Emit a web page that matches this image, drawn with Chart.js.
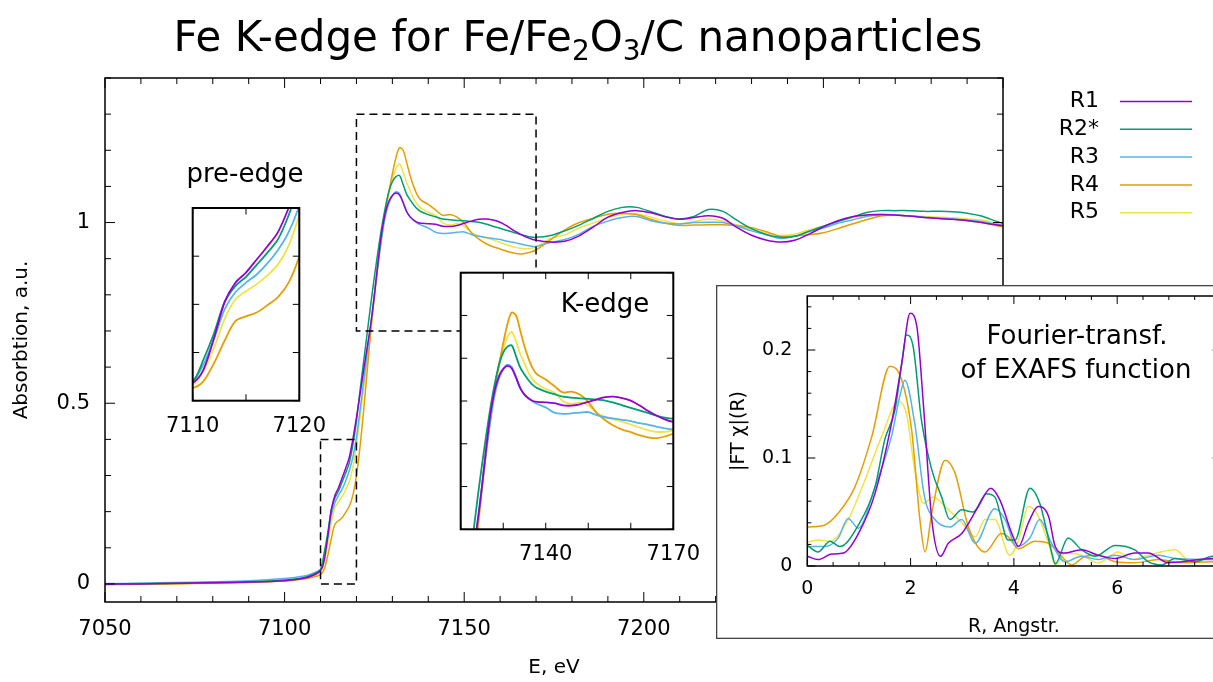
<!DOCTYPE html>
<html>
<head>
<meta charset="utf-8">
<title>Fe K-edge for Fe/Fe2O3/C nanoparticles</title>
<script src="https://cdn.jsdelivr.net/npm/chart.js@4.4.1/dist/chart.umd.min.js"></script>
<style>
  html, body { margin: 0; padding: 0; background: #fff; overflow: hidden; width: 1213px; height: 682px; }
  canvas { position: absolute; }
</style>
</head>
<body>
<canvas id="main" width="1213" height="682" style="left:0;top:0"></canvas>
<canvas id="pre" width="220" height="310" style="left:140px;top:140px"></canvas>
<canvas id="kedge" width="300" height="330" style="left:420px;top:250px"></canvas>
<canvas id="ft" width="560" height="354" style="left:716px;top:285px"></canvas>
<script>
// series
const seriesNames = ['R1', 'R2*', 'R3', 'R4', 'R5'];
const colors = ['#9400d3', '#009e73', '#56b4e9', '#e69f00', '#f0e442'];

// XANES: energy grid (eV) and absorption of each sample
const energy = [7050, 7060, 7070, 7080, 7090, 7100, 7105, 7108, 7110,
  7111, 7112, 7113, 7114, 7115, 7116, 7117, 7118, 7119, 7120, 7121, 7122, 7123, 7124,
  7125, 7126, 7127, 7128, 7129, 7130, 7131, 7132, 7133, 7134, 7135, 7136, 7137, 7138,
  7140, 7142, 7144, 7146, 7148, 7150, 7152, 7154, 7156, 7158, 7160, 7162, 7164, 7166, 7168, 7170,
  7174, 7178, 7182, 7186, 7190, 7194, 7198, 7202, 7206, 7210, 7214, 7218, 7222, 7226, 7230, 7234,
  7238, 7242, 7246, 7250, 7254, 7258, 7262, 7266, 7270, 7274, 7278, 7282, 7286, 7290, 7294, 7298, 7300];

const absR1 = [0.000, 0.000, 0.002, 0.003, 0.005, 0.009, 0.015, 0.024, 0.037,
  0.064, 0.130, 0.205, 0.245, 0.266, 0.293, 0.320, 0.350, 0.400, 0.460, 0.525, 0.590, 0.655, 0.720,
  0.800, 0.890, 0.970, 1.025, 1.058, 1.075, 1.082, 1.076, 1.055, 1.030, 1.015, 1.006, 1.000, 0.998,
  0.997, 0.995, 0.990, 0.989, 0.992, 0.998, 1.004, 1.009, 1.010, 1.007, 1.001, 0.990, 0.977, 0.966, 0.957, 0.951,
  0.946, 0.948, 0.963, 0.988, 1.015, 1.028, 1.033, 1.027, 1.016, 1.009, 1.014, 1.019, 1.012, 0.986, 0.965, 0.952,
  0.946, 0.951, 0.968, 0.988, 1.005, 1.016, 1.021, 1.022, 1.021, 1.018, 1.014, 1.011, 1.009, 1.006, 1.000, 0.994, 0.991];

const absR2 = [0.000, 0.001, 0.002, 0.004, 0.006, 0.011, 0.017, 0.027, 0.040,
  0.085, 0.140, 0.205, 0.238, 0.257, 0.282, 0.307, 0.335, 0.385, 0.450, 0.535, 0.615, 0.695, 0.775,
  0.850, 0.920, 0.985, 1.040, 1.085, 1.113, 1.127, 1.130, 1.105, 1.078, 1.062, 1.048, 1.037, 1.030,
  1.022, 1.016, 1.010, 1.008, 1.006, 1.005, 1.003, 1.001, 0.996, 0.990, 0.984, 0.978, 0.972, 0.966, 0.961, 0.959,
  0.964, 0.977, 0.993, 1.012, 1.031, 1.042, 1.042, 1.030, 1.017, 1.010, 1.017, 1.036, 1.031, 1.006, 0.983, 0.967,
  0.959, 0.962, 0.976, 0.990, 1.003, 1.015, 1.028, 1.033, 1.033, 1.033, 1.031, 1.031, 1.030, 1.026, 1.018, 1.004, 0.998];

const absR3 = [0.001, 0.002, 0.004, 0.006, 0.009, 0.015, 0.021, 0.030, 0.041,
  0.075, 0.128, 0.190, 0.225, 0.245, 0.262, 0.285, 0.313, 0.350, 0.405, 0.480, 0.560, 0.640, 0.720,
  0.800, 0.880, 0.955, 1.015, 1.052, 1.074, 1.085, 1.080, 1.056, 1.030, 1.015, 1.006, 0.998, 0.993,
  0.985, 0.973, 0.970, 0.971, 0.973, 0.974, 0.967, 0.962, 0.959, 0.956, 0.953, 0.948, 0.945, 0.940, 0.936, 0.934,
  0.945, 0.953, 0.968, 0.990, 1.004, 1.014, 1.017, 1.005, 0.998, 0.996, 1.000, 1.001, 1.000, 0.990, 0.977, 0.967,
  0.956, 0.962, 0.975, 0.985, 0.998, 1.007, 1.017, 1.021, 1.021, 1.018, 1.015, 1.012, 1.010, 1.007, 1.003, 0.995, 0.992];

const absR4 = [-0.002, -0.001, 0.000, 0.002, 0.004, 0.008, 0.013, 0.019, 0.026,
  0.040, 0.078, 0.125, 0.165, 0.175, 0.183, 0.198, 0.215, 0.245, 0.300, 0.380, 0.480, 0.590, 0.700,
  0.800, 0.890, 0.960, 1.030, 1.085, 1.135, 1.180, 1.207, 1.200, 1.165, 1.128, 1.098, 1.075, 1.062,
  1.050, 1.035, 1.020, 1.022, 1.015, 0.998, 0.972, 0.955, 0.942, 0.933, 0.927, 0.920, 0.915, 0.913, 0.917, 0.924,
  0.952, 0.980, 1.000, 1.012, 1.023, 1.026, 1.022, 1.009, 0.998, 0.992, 0.993, 0.994, 0.994, 0.992, 0.986, 0.975,
  0.962, 0.963, 0.966, 0.972, 0.983, 0.996, 1.008, 1.018, 1.021, 1.018, 1.015, 1.012, 1.010, 1.005, 1.000, 0.992, 0.988];

const absR5 = [0.000, 0.000, 0.001, 0.003, 0.005, 0.009, 0.015, 0.023, 0.033,
  0.060, 0.110, 0.170, 0.210, 0.227, 0.242, 0.260, 0.283, 0.322, 0.385, 0.460, 0.540, 0.620, 0.700,
  0.790, 0.880, 0.960, 1.030, 1.080, 1.120, 1.150, 1.162, 1.140, 1.110, 1.088, 1.065, 1.050, 1.040,
  1.028, 1.020, 1.000, 0.993, 0.997, 0.990, 0.972, 0.963, 0.957, 0.952, 0.945, 0.938, 0.932, 0.928, 0.928, 0.932,
  0.956, 0.966, 0.985, 0.999, 1.013, 1.023, 1.024, 1.015, 1.004, 0.997, 1.003, 1.010, 1.004, 0.993, 0.981, 0.972,
  0.964, 0.968, 0.980, 0.990, 1.003, 1.013, 1.021, 1.024, 1.021, 1.019, 1.017, 1.015, 1.013, 1.010, 1.007, 0.999, 0.995];

const absorption = [absR1, absR2, absR3, absR4, absR5];

// Fourier transform of EXAFS: R (Angstrom) and |FT chi|(R)
const ftR1 = [0, 0.21, 0.47, 0.70, 0.99, 1.31, 1.63, 1.83, 1.99, 2.12, 2.25, 2.41, 2.58, 2.73, 2.99, 3.31, 3.55, 3.73,
  3.96, 4.09, 4.28, 4.47, 4.67, 4.80, 4.96, 5.31, 5.63, 5.96, 6.34, 6.60, 6.99, 7.25, 7.85, 8.0];
const ftF1 = [0.009, 0.006, 0.011, 0.012, 0.030, 0.067, 0.132, 0.188, 0.234, 0.222, 0.148, 0.043, 0.009, 0.021, 0.030, 0.055, 0.072, 0.061,
  0.030, 0.018, 0.040, 0.055, 0.046, 0.018, 0.012, 0.015, 0.010, 0.007, 0.012, 0.012, 0.003, 0.004, 0.007, 0.007];
const ftR2 = [0, 0.21, 0.44, 0.63, 0.99, 1.31, 1.50, 1.70, 1.83, 1.92, 2.05, 2.21, 2.41, 2.60, 2.76, 2.99, 3.21, 3.47, 3.63,
  3.89, 4.02, 4.31, 4.50, 4.73, 4.80, 5.05, 5.31, 5.57, 5.96, 6.34, 6.60, 6.86, 7.12, 7.51, 7.85, 8.0];
const ftF2 = [0.019, 0.013, 0.023, 0.018, 0.038, 0.073, 0.117, 0.145, 0.188, 0.214, 0.203, 0.135, 0.089, 0.064, 0.043, 0.052, 0.050, 0.067, 0.064,
  0.024, 0.024, 0.072, 0.058, 0.013, 0.002, 0.026, 0.015, 0.009, 0.019, 0.015, 0.004, 0.001, 0.007, 0.004, 0.009, 0.009];
const ftR3 = [0, 0.34, 0.60, 0.79, 0.99, 1.31, 1.63, 1.79, 1.89, 2.08, 2.27, 2.47, 2.76, 2.99, 3.25, 3.63, 3.83, 4.05,
  4.31, 4.50, 4.73, 4.99, 5.31, 5.63, 5.96, 6.34, 6.80, 7.12, 7.85, 8.0];
const ftF3 = [0.018, 0.018, 0.026, 0.044, 0.035, 0.073, 0.120, 0.157, 0.172, 0.132, 0.064, 0.043, 0.036, 0.043, 0.021, 0.053, 0.043, 0.018,
  0.026, 0.043, 0.021, 0.004, 0.009, 0.006, 0.010, 0.006, 0.010, 0.007, 0.006, 0.006];
const ftR4 = [0, 0.34, 0.60, 0.92, 1.25, 1.60, 1.83, 2.02, 2.18, 2.28, 2.41, 2.67, 2.86, 3.12, 3.44, 3.76, 3.89, 4.09,
  4.41, 4.67, 4.92, 5.12, 5.38, 5.63, 5.96, 6.34, 6.80, 7.25, 7.85, 8.0];
const ftF4 = [0.036, 0.038, 0.049, 0.073, 0.120, 0.185, 0.172, 0.126, 0.043, 0.013, 0.049, 0.098, 0.086, 0.036, 0.013, 0.030, 0.027, 0.016,
  0.023, 0.021, 0.009, 0.001, 0.009, 0.010, 0.004, 0.003, 0.006, 0.003, 0.004, 0.004];
const ftR5 = [0, 0.21, 0.44, 0.79, 1.12, 1.44, 1.76, 1.92, 2.08, 2.25, 2.44, 2.67, 2.99, 3.25, 3.44, 3.63, 3.92, 4.09,
  4.28, 4.44, 4.67, 4.80, 4.99, 5.31, 5.63, 6.02, 6.28, 6.60, 7.12, 7.38, 7.85, 8.0];
const ftF5 = [0.022, 0.024, 0.023, 0.043, 0.080, 0.120, 0.152, 0.141, 0.089, 0.058, 0.064, 0.055, 0.040, 0.027, 0.043, 0.043, 0.010, 0.024,
  0.055, 0.049, 0.021, 0.001, 0.012, 0.010, 0.003, 0.013, 0.006, 0.010, 0.015, 0.006, 0.006, 0.006];
const ftR = [ftR1, ftR2, ftR3, ftR4, ftR5];
const ftF = [ftF1, ftF2, ftF3, ftF4, ftF5];

// axis ranges and tick labels
const mainE = [7050, 7300], mainA = [-0.05, 1.4];
const mainXTicks = [7050, 7100, 7150, 7200, 7250, 7300];
const mainYTicks = [0, 0.5, 1];
const preEdgeE = [7110, 7120], preEdgeA = [0, 0.4];
const preXTicks = [7110, 7120];
const kEdgeE = [7120, 7170], kEdgeA = [0.7, 1.3];
const kXTicks = [7140, 7170];
const ftRange = [0, 8], ftYRange = [0, 0.25];
const ftXTicks = [0, 2, 4, 6, 8];
const ftYTicks = [0, 0.1, 0.2];

const FONT = 'DejaVu Sans';
const font = size => ({ family: FONT, size: size });

function toPoints(xs, ys) {
  return xs.map((x, i) => ({ x: x, y: ys[i] }));
}

function stepValues(min, max, step) {
  const out = [];
  const n0 = Math.ceil(min / step - 1e-6), n1 = Math.floor(max / step + 1e-6);
  for (let n = n0; n <= n1; n++) out.push(+(n * step).toFixed(6));
  return out;
}

function isMultiple(v, step) {
  return Math.abs(v / step - Math.round(v / step)) < 1e-6;
}

// gnuplot-like frame with inward ticks on all four sides
const boxPlugin = {
  id: 'box',
  beforeDraw(chart, args, o) {
    if (!o.fillCanvas) return;
    const { ctx, width, height } = chart;
    ctx.save();
    ctx.fillStyle = '#fff';
    ctx.fillRect(0, 0, width, height);
    ctx.strokeStyle = '#444';
    ctx.lineWidth = 1.3;
    ctx.strokeRect(0.65, 0.65, width - 1.3, height - 1.3);
    ctx.restore();
  },
  beforeDatasetsDraw(chart, args, o) {
    if (!o.fillArea) return;
    const { ctx, chartArea: a } = chart;
    ctx.save();
    ctx.fillStyle = '#fff';
    ctx.fillRect(a.left, a.top, a.width, a.height);
    ctx.restore();
  },
  afterDatasetsDraw(chart, args, o) {
    const { ctx, chartArea: a, scales } = chart;
    const xs = scales.x, ys = scales.y;
    ctx.save();
    ctx.strokeStyle = '#000';
    ctx.lineWidth = 1;
    ctx.beginPath();
    const xTick = (step, len) => stepValues(xs.min, xs.max, step).forEach(v => {
      if (len < o.major && isMultiple(v, o.xMajor)) return;
      const px = xs.getPixelForValue(v);
      ctx.moveTo(px, a.bottom); ctx.lineTo(px, a.bottom - len);
      ctx.moveTo(px, a.top); ctx.lineTo(px, a.top + len);
    });
    const yTick = (step, len) => stepValues(ys.min, ys.max, step).forEach(v => {
      if (len < o.major && isMultiple(v, o.yMajor)) return;
      const py = ys.getPixelForValue(v);
      ctx.moveTo(a.left, py); ctx.lineTo(a.left + len, py);
      ctx.moveTo(a.right, py); ctx.lineTo(a.right - len, py);
    });
    xTick(o.xMajor, o.major);
    yTick(o.yMajor, o.major);
    if (o.xMinor) xTick(o.xMinor, o.minor);
    if (o.yMinor) yTick(o.yMinor, o.minor);
    ctx.stroke();
    ctx.lineWidth = o.frameWidth;
    ctx.strokeRect(a.left, a.top, a.width, a.height);
    ctx.restore();
  }
};

// text labels placed on a chart
const notesPlugin = {
  id: 'notes',
  afterDraw(chart, args, o) {
    const ctx = chart.ctx;
    ctx.save();
    ctx.fillStyle = '#000';
    (o.items || []).forEach(t => {
      ctx.font = t.size + 'px "' + FONT + '"';
      ctx.textAlign = 'center';
      ctx.textBaseline = 'alphabetic';
      ctx.fillText(t.text, t.x, t.y);
    });
    ctx.restore();
  }
};

// main chart extras: dashed zoom boxes, legend, title with subscripts
const mainExtras = {
  id: 'mainExtras',
  afterDraw(chart) {
    const { ctx, scales: { x, y } } = chart;
    ctx.save();
    ctx.strokeStyle = '#000';
    ctx.lineWidth = 1.5;
    ctx.setLineDash([8, 5]);
    [[preEdgeE, preEdgeA], [kEdgeE, kEdgeA]].forEach(([e, a]) => {
      const x0 = x.getPixelForValue(e[0]), x1 = x.getPixelForValue(e[1]);
      const y0 = y.getPixelForValue(a[1]), y1 = y.getPixelForValue(a[0]);
      ctx.strokeRect(x0, y0, x1 - x0, y1 - y0);
    });
    ctx.setLineDash([]);

    // legend
    ctx.font = '22px "' + FONT + '"';
    ctx.textAlign = 'right';
    ctx.textBaseline = 'middle';
    chart.data.datasets.forEach((ds, i) => {
      const ly = 101.5 + i * 27.8;
      ctx.fillStyle = '#000';
      ctx.fillText(ds.label, 1099, ly);
      ctx.strokeStyle = ds.borderColor;
      ctx.lineWidth = 1.5;
      ctx.beginPath();
      ctx.moveTo(1120, ly);
      ctx.lineTo(1192, ly);
      ctx.stroke();
    });

    // title
    const parts = [['Fe K-edge for Fe/Fe', 0], ['2', 1], ['O', 0], ['3', 1], ['/C nanoparticles', 0]];
    const big = '42px "' + FONT + '"', small = '28px "' + FONT + '"';
    let total = 0;
    parts.forEach(([t, sub]) => { ctx.font = sub ? small : big; total += ctx.measureText(t).width; });
    let tx = 578 - total / 2;
    ctx.textAlign = 'left';
    ctx.textBaseline = 'alphabetic';
    ctx.fillStyle = '#000';
    parts.forEach(([t, sub]) => {
      ctx.font = sub ? small : big;
      ctx.fillText(t, tx, sub ? 60 : 51);
      tx += ctx.measureText(t).width;
    });
    ctx.restore();
  }
};

function fixedTicks(list) {
  return s => { s.ticks = list.map(v => ({ value: v })); };
}

function lineSets(widthPx, pointsFor, extra) {
  return seriesNames.map((n, i) => Object.assign({
    label: n,
    data: pointsFor(i),
    borderColor: colors[i],
    borderWidth: widthPx,
    pointRadius: 0,
    fill: false
  }, extra));
}

// main XANES chart
new Chart(document.getElementById('main'), {
  type: 'line',
  data: { datasets: lineSets(1.5, i => toPoints(energy, absorption[i]), { tension: 0.3 }) },
  options: {
    responsive: false, animation: false, events: [], devicePixelRatio: 1,
    layout: { padding: { left: 0, right: 210, top: 78, bottom: 0 } },
    plugins: {
      legend: { display: false }, tooltip: { enabled: false },
      box: { xMajor: 50, xMinor: 10, yMajor: 0.5, yMinor: 0.1, major: 10, minor: 6, frameWidth: 1.5 }
    },
    scales: {
      x: {
        type: 'linear', min: mainE[0], max: mainE[1],
        afterBuildTicks: fixedTicks(mainXTicks),
        afterFit: s => { s.height = 80; },
        grid: { display: false, drawTicks: false }, border: { display: false },
        ticks: { callback: v => String(v), font: font(21), color: '#000', padding: 15, maxRotation: 0, autoSkip: false },
        title: { display: true, text: 'E, eV', font: font(20), color: '#000', padding: { top: 0, bottom: 2 } }
      },
      y: {
        type: 'linear', min: mainA[0], max: mainA[1],
        afterBuildTicks: fixedTicks(mainYTicks),
        afterFit: s => { s.width = 105; },
        grid: { display: false, drawTicks: false }, border: { display: false },
        ticks: { callback: v => String(v), font: font(21), color: '#000', padding: 15 },
        title: { display: true, text: 'Absorbtion, a.u.', font: font(20), color: '#000', padding: { top: 10, bottom: 0 } }
      }
    }
  },
  plugins: [boxPlugin, mainExtras]
});

// inset zoom charts share the same absorption arrays
function insetChart(id, eRange, aRange, xLabels, cfg) {
  return new Chart(document.getElementById(id), {
    type: 'line',
    data: { datasets: lineSets(1.8, i => toPoints(energy, absorption[i]), { tension: 0.3 }) },
    options: {
      responsive: false, animation: false, events: [], devicePixelRatio: 1,
      layout: { padding: { left: 0, right: cfg.right, top: cfg.top, bottom: 0 } },
      plugins: {
        legend: { display: false }, tooltip: { enabled: false },
        box: { xMajor: cfg.xStep, yMajor: 0.1, major: 6.5, minor: 3, frameWidth: 2, fillArea: true },
        notes: { items: cfg.notes }
      },
      scales: {
        x: {
          type: 'linear', min: eRange[0], max: eRange[1],
          afterBuildTicks: fixedTicks(xLabels),
          afterFit: s => { s.height = cfg.bottomH; },
          grid: { display: false, drawTicks: false }, border: { display: false },
          ticks: { callback: v => String(v), font: font(21), color: '#000', padding: 13, maxRotation: 0, autoSkip: false }
        },
        y: {
          type: 'linear', min: aRange[0], max: aRange[1],
          afterFit: s => { s.width = cfg.leftW; s.paddingTop = 0; s.paddingBottom = 0; },
          grid: { display: false, drawTicks: false }, border: { display: false },
          ticks: { display: false }
        }
      }
    },
    plugins: [boxPlugin, notesPlugin]
  });
}

insetChart('pre', preEdgeE, preEdgeA, preXTicks, {
  leftW: 52.7, right: 60.7, top: 68, bottomH: 49.3, xStep: 5,
  notes: [{ text: 'pre-edge', x: 105, y: 42, size: 26 }]
});

insetChart('kedge', kEdgeE, kEdgeA, kXTicks, {
  leftW: 40.7, right: 46.7, top: 22.7, bottomH: 50.7, xStep: 10,
  notes: [{ text: 'K-edge', x: 185, y: 62, size: 26 }]
});

// Fourier-transform inset
new Chart(document.getElementById('ft'), {
  type: 'line',
  data: { datasets: lineSets(1.5, i => toPoints(ftR[i], ftF[i]), { cubicInterpolationMode: 'monotone' }) },
  options: {
    responsive: false, animation: false, events: [], devicePixelRatio: 1,
    layout: { padding: { left: 0, right: 55.5, top: 11, bottom: 0 } },
    plugins: {
      legend: { display: false }, tooltip: { enabled: false },
      box: { xMajor: 2, xMinor: 0.5, yMajor: 0.1, yMinor: 0.02, major: 8, minor: 4, frameWidth: 1.5, fillCanvas: true },
      notes: { items: [
        { text: 'Fourier-transf.', x: 361, y: 59, size: 26 },
        { text: 'of EXAFS function', x: 360, y: 93, size: 26 }
      ] }
    },
    scales: {
      x: {
        type: 'linear', min: ftRange[0], max: ftRange[1],
        afterBuildTicks: fixedTicks(ftXTicks),
        afterFit: s => { s.height = 73; s.paddingLeft = 0; s.paddingRight = 0; },
        grid: { display: false, drawTicks: false }, border: { display: false },
        ticks: { callback: v => String(v), font: font(19), color: '#000', padding: 12, maxRotation: 0, autoSkip: false },
        title: { display: true, text: 'R, Angstr.', font: font(19), color: '#000', padding: { top: 0, bottom: 1 } }
      },
      y: {
        type: 'linear', min: ftYRange[0], max: ftYRange[1],
        afterBuildTicks: fixedTicks(ftYTicks),
        afterFit: s => { s.width = 91.3; s.paddingTop = 0; s.paddingBottom = 0; },
        grid: { display: false, drawTicks: false }, border: { display: false },
        ticks: { callback: v => String(v), font: font(19), color: '#000', padding: 15 },
        title: { display: true, text: '|FT χ|(R)', font: font(19), color: '#000', padding: { top: 12, bottom: 0 } }
      }
    }
  },
  plugins: [boxPlugin, notesPlugin]
});
</script>
</body>
</html>
